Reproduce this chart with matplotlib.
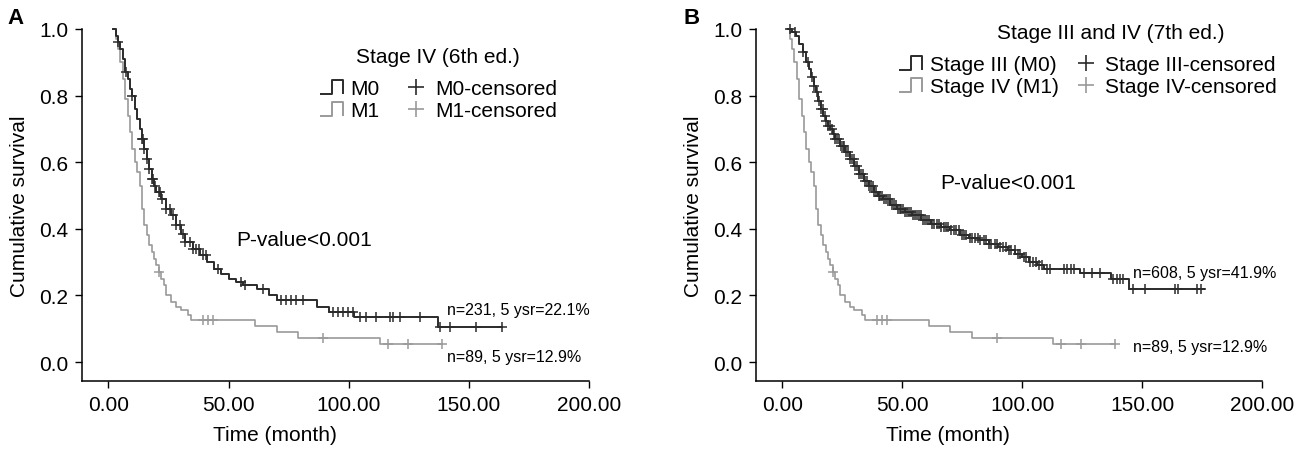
import numpy as np
import matplotlib
matplotlib.use("Agg")
import matplotlib.pyplot as plt
from matplotlib.lines import Line2D
from matplotlib.path import Path

plt.rcParams['font.family'] = ['Liberation Sans', 'DejaVu Sans']

# ---- data ----
# panel A, M0 (6th ed.) : step times / survival after the step
m0_t = [2, 3, 4, 5, 6, 7, 8, 9, 10, 11, 12, 13, 14, 15, 16, 17, 18, 19, 20, 22, 24, 26,
        28, 30, 32, 35, 38, 41, 44, 47, 50, 53, 56, 62, 67, 70, 87, 92, 102, 137]
m0_s = [1.0, 0.98, 0.96, 0.94, 0.91, 0.87, 0.85, 0.82, 0.80, 0.76, 0.73, 0.70, 0.67, 0.64,
        0.61, 0.58, 0.55, 0.53, 0.51, 0.49, 0.46, 0.44, 0.41, 0.385, 0.36, 0.34, 0.32, 0.30,
        0.28, 0.265, 0.25, 0.24, 0.23, 0.22, 0.20, 0.185, 0.165, 0.15, 0.135, 0.105]
m0_end = 164
m0_cens = [4, 7.3, 10, 14, 14.3, 15, 16, 17, 18, 18.5, 19.5, 21, 21.3, 22.5, 24, 25.5, 26.8,
           28, 29.6, 31, 32, 33.8, 35, 36.5, 37.9, 39.3, 40.7, 45.6, 55.3, 56.7, 64.3, 72, 74,
           76, 78, 81, 93.5, 95.5, 97.6, 99.7, 101.8, 104.6, 107.4, 111.5, 117, 118.5, 121.3,
           129.6, 138, 142, 153, 164]

# M1 / stage IV (same 89 patients in both panels)
m1_t = [2, 3, 4, 5, 6, 7, 8, 9, 10, 11, 12, 13, 14, 15, 16, 17, 18, 19, 20, 21, 22, 23, 24,
        26, 28, 30, 33, 34.5, 61, 70, 79, 113]
m1_s = [1.0, 0.97, 0.94, 0.90, 0.85, 0.79, 0.74, 0.69, 0.64, 0.60, 0.57, 0.53, 0.46, 0.41,
        0.38, 0.35, 0.33, 0.31, 0.29, 0.27, 0.25, 0.23, 0.20, 0.18, 0.165, 0.155, 0.14, 0.125,
        0.108, 0.09, 0.072, 0.054]
m1_end = 138.8
m1_cens = [21.2, 39.3, 41.4, 43.5, 89.3, 116.3, 124.7, 138.8]

# panel B, stage III (M0), 7th ed.
s3_t = [2.5, 4, 5.5, 7, 8.5, 10, 11, 12, 13, 14, 15, 16, 17, 18, 19, 20, 21, 22, 24, 26, 28,
        30, 32, 34, 36, 38, 40, 42, 45, 48, 51, 54, 58, 62, 66, 70, 74, 78, 82, 86, 90, 94,
        97, 100, 103, 106, 109, 124, 137, 144.6]
s3_s = [1.0, 0.99, 0.98, 0.955, 0.93, 0.90, 0.88, 0.855, 0.83, 0.81, 0.785, 0.76, 0.74,
        0.725, 0.71, 0.70, 0.685, 0.67, 0.65, 0.63, 0.61, 0.59, 0.565, 0.545, 0.53, 0.51,
        0.50, 0.49, 0.47, 0.46, 0.45, 0.44, 0.425, 0.415, 0.405, 0.395, 0.38, 0.372, 0.365,
        0.355, 0.345, 0.335, 0.325, 0.315, 0.30, 0.29, 0.28, 0.267, 0.25, 0.22]
s3_end = 175.8
s3_cens = [3, 5.4, 8.8, 10.5, 12.2, 13.1, 14.4, 15.3, 16.1, 16.8, 17.6, 18.3, 19.2, 19.8,
           20.7, 21.4, 22.1, 22.9, 23.6, 24.4, 25.1, 25.8, 26.7, 27.3, 28.2, 28.9, 29.7, 30.4,
           31.3, 32.1, 32.8, 33.6, 34.5, 35.2, 36.1, 36.8, 37.7, 38.4, 39.2, 40.1, 40.9, 41.6,
           42.5, 43.3, 44.1, 44.8, 45.7, 46.5, 47.2, 48.1, 48.9, 49.6, 50.5, 51.2, 52.1, 52.9,
           53.8, 54.6, 55.3, 56.2, 57.1, 57.9, 58.8, 59.6, 60.4, 61.3, 62.2, 63.1, 64.3, 65.2,
           66.1, 67.4, 68.3, 69.2, 70.5, 71.4, 72.6, 73.5, 74.8, 75.9, 76.7, 78.1, 79.2, 80.4,
           81.6, 82.5, 83.9, 85.1, 86.3, 87.2, 88.6, 89.7, 90.9, 92.1, 93.3, 94.6, 95.5, 96.8,
           98.2, 99.1, 100.6, 101.7, 103.2, 104.4, 105.8, 107.1, 108.3, 110.3, 111.7, 117.4,
           118.8, 120.2, 121.5, 125.6, 129, 132.5, 138, 139.4, 140.8, 142.2, 146.4, 151.3,
           163.7, 165, 172.8, 174.4]

x_ticks = [0, 50, 100, 150, 200]
y_ticks = [0.0, 0.2, 0.4, 0.6, 0.8, 1.0]

dark = '#2b2b2b'
gray = '#9a9a9a'


def surv_at(times, surv, t):
    idx = np.searchsorted(times, t, side='right') - 1
    return np.asarray(surv)[np.clip(idx, 0, len(surv) - 1)]


def km(ax, times, surv, end, cens, color, lw):
    tt = list(times) + [end]
    ss = list(surv) + [surv[-1]]
    ax.plot(tt, ss, drawstyle='steps-post', color=color, lw=lw, clip_on=False, zorder=3)
    ax.plot(cens, surv_at(times, surv, cens), ls='none', marker='+', ms=6.5, mew=1.1,
            color=color, clip_on=False, zorder=4)


def style_axes(ax):
    ax.set_xlim(-11, 200)
    ax.set_ylim(-0.057, 1.0)
    ax.spines['top'].set_visible(False)
    ax.spines['right'].set_visible(False)
    ax.set_xticks(x_ticks)
    ax.set_xticklabels([f"{v:.2f}" for v in x_ticks])
    ax.set_yticks(y_ticks)
    ax.set_yticklabels([f"{v:.1f}" for v in y_ticks])
    ax.tick_params(direction='out', length=5, width=1, labelsize=15, pad=5)
    for sp in ('left', 'bottom'):
        ax.spines[sp].set_linewidth(1.1)
    ax.set_xlabel('Time (month)', fontsize=15)
    ax.xaxis.set_label_coords(0.38, -0.125)
    ax.set_ylabel('Cumulative survival', fontsize=15, labelpad=7)


step_sym = Path([(-1, -0.6), (0, -0.6), (0, 0.6), (0.9, 0.6), (0.9, -0.6)])


def km_legend(ax, title, title_xy, names, col_x, top):
    ax.text(title_xy[0], title_xy[1], title, transform=ax.transAxes, fontsize=15,
            ha='center', va='center')
    lines = [Line2D([], [], ls='none', marker=step_sym, ms=17, mfc='none', mew=1.4, color=dark),
             Line2D([], [], ls='none', marker=step_sym, ms=17, mfc='none', mew=1.4, color=gray)]
    cross = [Line2D([], [], ls='none', marker='+', ms=12, mew=1.2, color=dark),
             Line2D([], [], ls='none', marker='+', ms=12, mew=1.2, color=gray)]
    kw = dict(frameon=False, loc='upper left', fontsize=15, handlelength=1.3,
              handletextpad=0.25, labelspacing=0.14, borderaxespad=0, borderpad=0)
    leg1 = ax.legend(lines, names[:2], bbox_to_anchor=(col_x[0], top), **kw)
    ax.add_artist(leg1)
    ax.legend(cross, names[2:], bbox_to_anchor=(col_x[1], top), **kw)


fig = plt.figure(figsize=(13.08, 4.52), dpi=100)
axA = fig.add_axes([82 / 1308, 1 - 382 / 452, 507 / 1308, 352 / 452])
axB = fig.add_axes([756 / 1308, 1 - 382 / 452, 506 / 1308, 352 / 452])

# panel A
km(axA, m1_t, m1_s, m1_end, m1_cens, gray, 1.2)
km(axA, m0_t, m0_s, m0_end, m0_cens, dark, 1.4)
style_axes(axA)
km_legend(axA, 'Stage IV (6th ed.)', (0.702, 0.923), ['M0', 'M1', 'M0-censored', 'M1-censored'],
          (0.4655, 0.633), 0.858)
axA.text(53.3, 0.369, 'P-value<0.001', fontsize=15, va='center')
axA.text(140.8, 0.159, 'n=231, 5 ysr=22.1%', fontsize=11.5, va='center')
axA.text(140.8, 0.018, 'n=89, 5 ysr=12.9%', fontsize=11.5, va='center')

# panel B
km(axB, m1_t, m1_s, m1_end, m1_cens, gray, 1.2)
km(axB, s3_t, s3_s, s3_end, s3_cens, dark, 1.4)
style_axes(axB)
km_legend(axB, 'Stage III and IV (7th ed.)', (0.7016, 0.991),
          ['Stage III (M0)', 'Stage IV (M1)', 'Stage III-censored', 'Stage IV-censored'],
          (0.2796, 0.6255), 0.925)
axB.text(65.8, 0.54, 'P-value<0.001', fontsize=15, va='center')
axB.text(146.3, 0.27, 'n=608, 5 ysr=41.9%', fontsize=11.5, va='center')
axB.text(146.3, 0.048, 'n=89, 5 ysr=12.9%', fontsize=11.5, va='center')

fig.text(16 / 1308, 1 - 18 / 452, 'A', fontsize=16, fontweight='bold', ha='center', va='center')
fig.text(692 / 1308, 1 - 18 / 452, 'B', fontsize=16, fontweight='bold', ha='center', va='center')

fig.savefig('out.png', dpi=100)
